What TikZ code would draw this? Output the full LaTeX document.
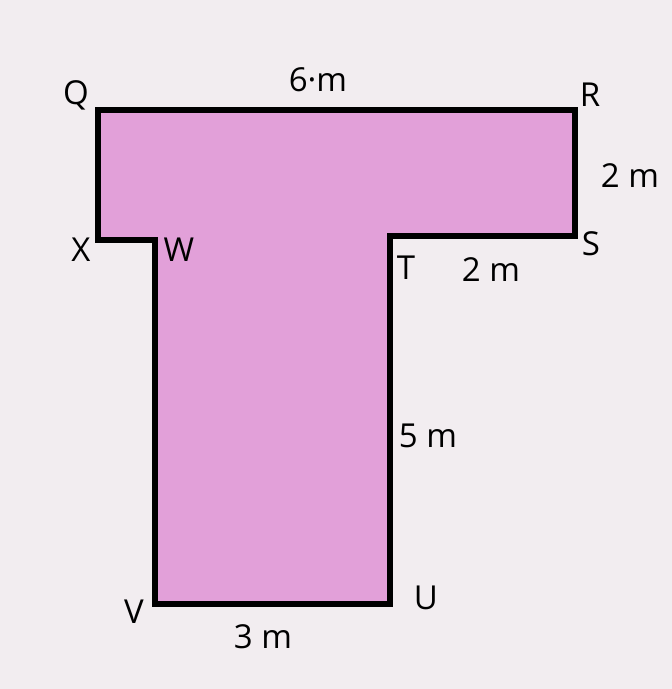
\documentclass[tikz,border=0pt]{standalone}
\usepackage{fontspec}
\setmainfont{Open Sans}
\usepackage{tikz}
\usetikzlibrary{positioning}
\definecolor{paperbg}{HTML}{F2EDF0}
\definecolor{plotpink}{HTML}{E2A0D9}

\begin{document}
\begin{tikzpicture}[
    x=0.5pt, y=-0.5pt,
    edgeline/.style={line width=3.4pt, line join=miter, draw=black, fill=plotpink},
    corner/.style={font=\fontsize{16.5}{16.5}\selectfont, inner sep=0pt},
    lenlabel/.style={font=\fontsize{16.5}{16.5}\selectfont, inner sep=0pt},
  ]
  \fill[paperbg] (0,0) rectangle (672,689);
  \useasboundingbox (0,0) rectangle (672,689);

  % corners of the plot
  \coordinate (q) at (98,110);
  \coordinate (r) at (575,110);
  \coordinate (s) at (575,236);
  \coordinate (t) at (390,236);
  \coordinate (u) at (390,604);
  \coordinate (v) at (155,604);
  \coordinate (w) at (155,240);
  \coordinate (x) at (98,240);

  \draw[edgeline] (q) -- (r) -- (s) -- (t) -- (u) -- (v) -- (w) -- (x) -- cycle;

  % vertex names
  \node[corner] (Q) at (76,95)   {Q};
  \node[corner] (R) at (590,95)  {R};
  \node[corner] (S) at (591,244) {S};
  \node[corner] (T) at (406,268) {T};
  \node[corner] (U) at (426,598) {U};
  \node[corner] (V) at (134,612) {V};
  \node[corner] (W) at (179,250) {W};
  \node[corner] (X) at (81,250)  {X};

  % side lengths
  \node[lenlabel] (top)    at (318,80)  {6·m};
  \node[lenlabel] (rside)  at (630,176) {2 m};
  \node[lenlabel] (ledge)  at (491,270) {2 m};
  \node[lenlabel] (stem)   at (428,436) {5 m};
  \node[lenlabel] (bottom) at (263,637) {3 m};
\end{tikzpicture}
\end{document}
